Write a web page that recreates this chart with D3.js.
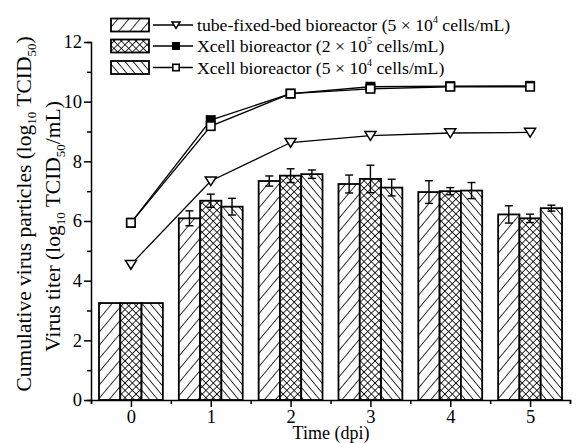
<!DOCTYPE html>
<html><head><meta charset="utf-8">
<script src="https://cdn.jsdelivr.net/npm/d3@7"></script>
<style>body{margin:0;background:#fff}svg{display:block}</style>
</head><body><div id="chart"></div>
<script>
const FONT = "'Liberation Serif', 'Times New Roman', Tinos, 'DejaVu Serif', serif";
const days = [0,1,2,3,4,5];
const barSeries = ["tube","xcell2e5","xcell5e4"];
const barTube = [3.25,6.09,7.34,7.24,6.97,6.22];
const barTubeErr = [0,0.25,0.17,0.30,0.38,0.29];
const barX2 = [3.25,6.68,7.52,7.41,7.00,6.09];
const barX2Err = [0,0.22,0.23,0.46,0.12,0.14];
const barX5 = [3.25,6.48,7.57,7.12,7.02,6.43];
const barX5Err = [0,0.28,0.14,0.28,0.27,0.10];
const cumTube = [4.54,7.34,8.63,8.86,8.95,8.97];
const cumX2 = [5.94,9.38,10.27,10.50,10.52,10.53];
const cumX5 = [5.94,9.18,10.27,10.43,10.50,10.50];
const yTicks = [0,2,4,6,8,10,12];
const legendLabels = [["tube-fixed-bed bioreactor (5 × 10","4"," cells/mL)"],["Xcell bioreactor (2 × 10","5"," cells/mL)"],["Xcell bioreactor (5 × 10","4"," cells/mL)"]];

const W=577,H=443;
const svg=d3.select("#chart").append("svg").attr("width",W).attr("height",H).attr("font-family",FONT);
const defs=svg.append("defs");
function hatch(id,angle,gap,cross){
  const p=defs.append("pattern").attr("id",id).attr("patternUnits","userSpaceOnUse")
    .attr("width",gap).attr("height",gap).attr("patternTransform",`rotate(${angle})`);
  p.append("rect").attr("width",gap).attr("height",gap).attr("fill","#fff");
  p.append("line").attr("x1",0).attr("y1",0).attr("x2",0).attr("y2",gap).attr("stroke","#000").attr("stroke-width",1.6);
  if(cross) p.append("line").attr("x1",0).attr("y1",0).attr("x2",gap).attr("y2",0).attr("stroke","#000").attr("stroke-width",1.6);
}
hatch("p0",40,8.5,false);
hatch("p1",45,5.2,true);
hatch("p2",-40,6.2,false);
const fills=["url(#p0)","url(#p1)","url(#p2)"];

const xl=d3.scaleLinear().domain([-0.5,5.5]).range([91,570]);
const xb=d3.scaleBand().domain(days).range([91,570]).paddingInner(0.2).paddingOuter(0.1);
const xs=d3.scaleBand().domain(barSeries).range([0,xb.bandwidth()]);
const y=d3.scaleLinear().domain([0,12]).range([400,42]);

const bars=[barTube,barX2,barX5], errs=[barTubeErr,barX2Err,barX5Err];
const g=svg.append("g");
barSeries.forEach((s,si)=>{
  g.selectAll(null).data(days).enter().append("rect")
   .attr("x",d=>xb(d)+xs(s)).attr("y",(d,i)=>y(bars[si][i]))
   .attr("width",xs.bandwidth()).attr("height",(d,i)=>y(0)-y(bars[si][i]))
   .attr("fill",fills[si]).attr("stroke","#000").attr("stroke-width",1.8);
});
barSeries.forEach((s,si)=>{
  days.forEach((d,i)=>{
    const e=errs[si][i]; if(!e) return;
    const cx=xb(d)+xs(s)+xs.bandwidth()/2, v=bars[si][i];
    const eg=g.append("g").attr("stroke","#000").attr("stroke-width",1.4);
    eg.append("line").attr("x1",cx).attr("x2",cx).attr("y1",y(v-e)).attr("y2",y(v+e));
    [v-e,v+e].forEach(t=>eg.append("line").attr("x1",cx-4).attr("x2",cx+4).attr("y1",y(t)).attr("y2",y(t)));
  });
});

const line=d3.line().x((d,i)=>xl(days[i])).y(d=>y(d));
[cumTube,cumX5,cumX2].forEach(arr=>{
  g.append("path").attr("d",line(arr)).attr("fill","none").attr("stroke","#000").attr("stroke-width",1.3);
});
function tri(sel,cx,cy,s){sel.append("path").attr("d",`M${cx-s},${cy-s*0.75}L${cx+s},${cy-s*0.75}L${cx},${cy+s*0.85}Z`).attr("fill","#fff").attr("stroke","#000").attr("stroke-width",1.5);}
function sq(sel,cx,cy,s,filled){sel.append("rect").attr("x",cx-s).attr("y",cy-s).attr("width",2*s).attr("height",2*s).attr("fill",filled?"#000":"#fff").attr("stroke","#000").attr("stroke-width",1.6);}
cumTube.forEach((v,i)=>tri(g,xl(days[i]),y(v),5.5));
cumX2.forEach((v,i)=>{sq(g,xl(days[i]),y(v),4.2,true);});
cumX5.forEach((v,i)=>{sq(g,xl(days[i]),y(v),4.2,false);});

const ax=svg.append("g").attr("transform","translate(0,400)");
ax.call(d3.axisBottom(xl).tickValues(days.map(d=>d+0.5).concat([-0.5])).tickSize(4).tickFormat(""));
const ax2=svg.append("g").attr("transform","translate(0,400)");
ax2.call(d3.axisBottom(xl).tickValues(days).tickSize(7).tickPadding(3).tickFormat(d3.format("d")));
ax2.select(".domain").remove();
const ay=svg.append("g").attr("transform","translate(91,0)");
ay.call(d3.axisLeft(y).tickValues([1,3,5,7,9,11]).tickSize(4).tickFormat(""));
const ay2=svg.append("g").attr("transform","translate(91,0)");
ay2.call(d3.axisLeft(y).tickValues(yTicks).tickSize(7).tickPadding(2).tickFormat(d3.format("d")));
ay2.select(".domain").remove();
svg.selectAll("g").filter(function(){return this.hasAttribute("font-family");}).attr("font-family",FONT);
svg.selectAll(".domain,.tick line").attr("stroke","#000").attr("stroke-width",1.5);
svg.selectAll(".tick text").attr("font-size",18.5).attr("fill","#000");

svg.append("text").attr("x",331).attr("y",439).attr("text-anchor","middle").attr("font-size",18).text("Time (dpi)");
function ytitle(x,cy,parts){
  const t=svg.append("text").attr("transform",`translate(${x},${cy}) rotate(-90)`).attr("text-anchor","middle").attr("font-size",21.5);
  parts.forEach(p=>{const ts=t.append("tspan").text(p[0]); if(p[1]) ts.attr("dy",p[1]); if(p[2]) ts.attr("font-size",p[2]);});
}
ytitle(31,214,[["Cumulative virus particles (log"],["10",5,13],[" TCID",-5],["50",5,13],[")",-5]]);
ytitle(60,226.5,[["Virus titer (log"],["10",5,13],[" TCID",-5],["50",5,13],["/mL)",-5]]);

const rowsY=[25,46,67.5];
const lg=svg.append("g");
rowsY.forEach((ry,i)=>{
  lg.append("rect").attr("x",111).attr("y",ry-6.5).attr("width",38).attr("height",13).attr("fill",fills[i]).attr("stroke","#000").attr("stroke-width",1.8);
  lg.append("line").attr("x1",153).attr("x2",193).attr("y1",ry).attr("y2",ry).attr("stroke","#000").attr("stroke-width",1.4);
  if(i===0) tri(lg,176,ry,4); else sq(lg,176,ry,3.2,i===1);
  const t=lg.append("text").attr("x",197).attr("y",ry+6).attr("font-size",17.7);
  const L=legendLabels[i];
  t.append("tspan").text(L[0]);
  t.append("tspan").text(L[1]).attr("font-size",10).attr("dy",-8);
  t.append("tspan").text(L[2]).attr("dy",8);
});
</script></body></html>
